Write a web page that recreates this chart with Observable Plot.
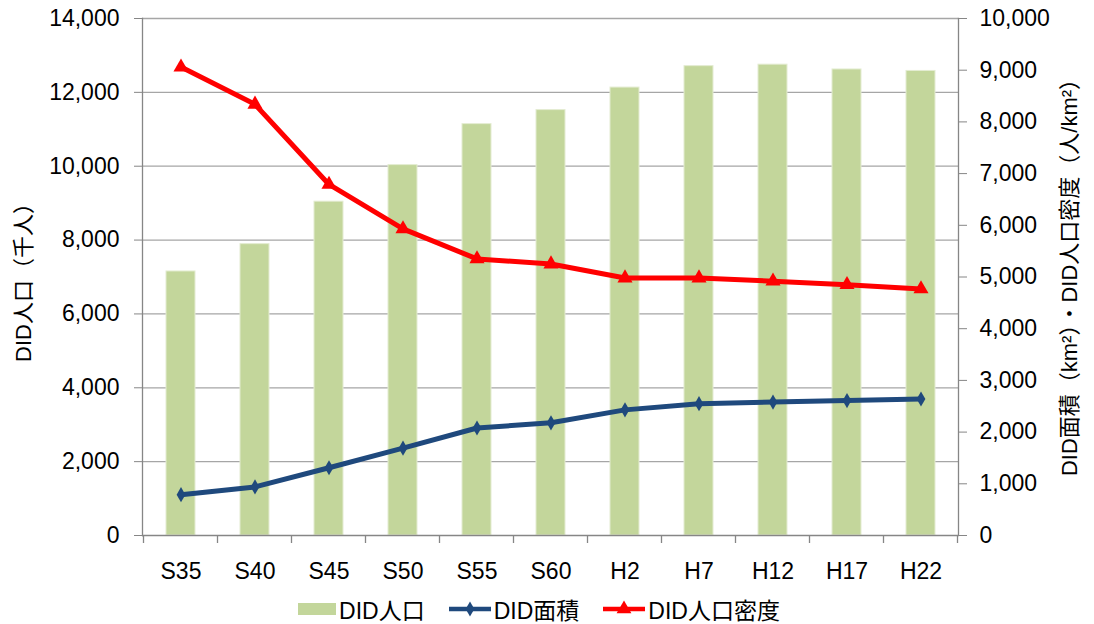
<!DOCTYPE html>
<html><head><meta charset="utf-8">
<script src="https://cdn.jsdelivr.net/npm/d3@7"></script>
<script src="https://cdn.jsdelivr.net/npm/@observablehq/plot@0.6"></script>
<style>
body{margin:0;background:#fff;font-family:"Liberation Sans",Arial,"Noto Sans CJK JP",sans-serif;}
#wrap{position:relative;width:1094px;height:624px;}
#legend{position:absolute;left:0;top:592px;width:1094px;height:34px;display:flex;justify-content:center;align-items:center;font-size:23px;color:#000;padding-right:16px;box-sizing:border-box;}
#legend .item{display:flex;align-items:center;margin:0 12px;}
#legend svg{margin-right:3px;}
</style></head><body>
<div id="wrap"><div id="chart"></div><div id="legend"></div></div>
<script>
const categories = ["S35","S40","S45","S50","S55","S60","H2","H7","H12","H17","H22"];
const didPopulation = [7150, 7890, 9040, 10030, 11140, 11520, 12130, 12710, 12750, 12620, 12580];
const didArea = [790, 940, 1310, 1690, 2080, 2180, 2430, 2550, 2580, 2610, 2640];
const didDensity = [9060, 8340, 6790, 5930, 5350, 5250, 4980, 4980, 4920, 4850, 4770];
const leftTicks = [0,2000,4000,6000,8000,10000,12000,14000];
const rightTicks = [0,1000,2000,3000,4000,5000,6000,7000,8000,9000,10000];
const seriesNames = ["DID人口","DID面積","DID人口密度"];
const seriesColors = ["#c3d69b","#1f497d","#ff0000"];
const leftLabel = "DID人口（千人）";
const rightLabel = "DID面積（km²）・DID人口密度（人/km²）";

const ratio = 14000/10000;
const rows = categories.map((c,i)=>({cat:c, pop:didPopulation[i], area:didArea[i]*ratio, dens:didDensity[i]*ratio}));
const fmt = d3.format(",");
const axisColor = "#868686";
const font = '"Liberation Sans",Arial,"Noto Sans CJK JP",sans-serif';

const chart = Plot.plot({
  width:1094, height:590, marginLeft:142, marginRight:136, marginTop:18, marginBottom:55,
  style:{fontFamily:font, fontSize:"23px", color:"#000", background:"#fff", overflow:"visible"},
  x:{domain:categories, paddingInner:0.61, paddingOuter:0.305},
  y:{domain:[0,14000]},
  marks:[
    Plot.ruleY(leftTicks.slice(1), {stroke:"#a6a6a6", strokeWidth:1.3}),
    Plot.barY(rows, {x:"cat", y:"pop", fill:seriesColors[0], stroke:"#e4ecd2", strokeWidth:1}),
    Plot.ruleY([0], {stroke:axisColor, strokeWidth:1.3}),
    Plot.frame({anchor:"left", stroke:axisColor, strokeWidth:1.3}),
    Plot.frame({anchor:"right", stroke:axisColor, strokeWidth:1.3}),
    Plot.axisY(leftTicks, {anchor:"left", tickSize:8, tickPadding:15, tickFormat:fmt, label:null, stroke:axisColor, fill:"#000"}),
    Plot.axisY(rightTicks.map(d=>d*ratio), {anchor:"right", tickSize:8, tickPadding:13, tickFormat:d=>fmt(Math.round(d/ratio)), label:null, stroke:axisColor, fill:"#000"}),
    Plot.axisX({anchor:"bottom", tickSize:0, tickPadding:27, label:null, fill:"#000"}),
    Plot.text([leftLabel], {frameAnchor:"left", dx:-119, rotate:-90, textAnchor:"middle", lineAnchor:"middle", fontSize:22, fill:"#000"}),
    Plot.text([rightLabel], {frameAnchor:"right", dx:111, dy:-5, rotate:-90, textAnchor:"middle", lineAnchor:"middle", fontSize:22, fill:"#000"}),
    Plot.lineY(rows, {x:"cat", y:"area", stroke:seriesColors[1], strokeWidth:5}),
    Plot.dot(rows, {x:"cat", y:"area", symbol:"diamond", r:4.6, fill:seriesColors[1], stroke:null}),
    Plot.lineY(rows, {x:"cat", y:"dens", stroke:seriesColors[2], strokeWidth:5}),
    Plot.dot(rows, {x:"cat", y:"dens", symbol:"triangle", r:5.6, fill:seriesColors[2], stroke:null})
  ]
});
document.getElementById("chart").appendChild(chart);

// category boundary tick marks on the bottom axis, from the library's x scale
const xs = chart.scale("x");
const ys = chart.scale("y");
const y0 = ys.apply(0);
const step = xs.step, bw = xs.bandwidth;
const bounds = categories.map(c => xs.apply(c) - (step - bw)/2);
bounds.push(bounds[bounds.length-1] + step);
d3.select(chart).append("g").selectAll("line").data(bounds).join("line")
  .attr("x1", d=>d).attr("x2", d=>d).attr("y1", y0).attr("y2", y0+8)
  .attr("stroke", axisColor).attr("stroke-width", 1.3);

// legend
const leg = d3.select("#legend");
seriesNames.forEach((name,i)=>{
  const it = leg.append("div").attr("class","item");
  const s = it.append("svg").attr("width", i===0?38:42).attr("height", 20);
  if(i===0){
    s.append("rect").attr("x",0).attr("y",4).attr("width",38).attr("height",12).attr("fill",seriesColors[0]);
  } else {
    s.append("line").attr("x1",0).attr("x2",42).attr("y1",10).attr("y2",10).attr("stroke",seriesColors[i]).attr("stroke-width",4.5);
    const sym = i===1 ? d3.symbol(d3.symbolDiamond, 66) : d3.symbol(d3.symbolTriangle, 95);
    s.append("path").attr("d", sym()).attr("transform","translate(21,10)").attr("fill",seriesColors[i]);
  }
  it.append("span").text(name);
});
</script>
</body></html>
